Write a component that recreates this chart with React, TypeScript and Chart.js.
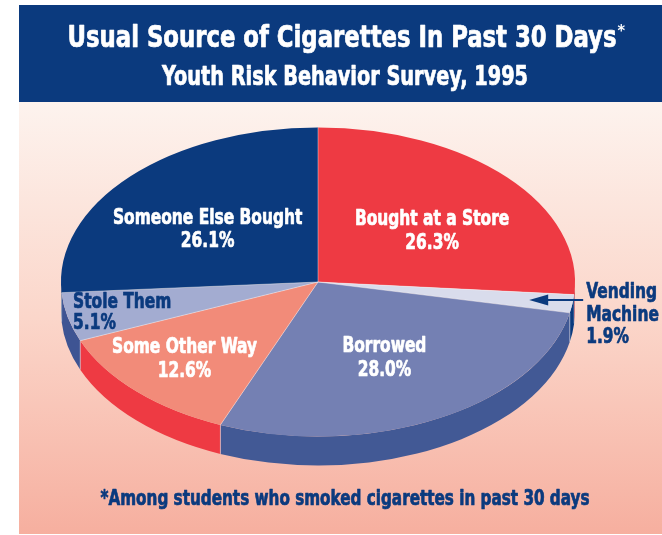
import React, { useEffect, useRef } from "react";
import { Chart, registerables } from "chart.js";

Chart.register(...registerables);

// ---- data ----
const categories = [
  "Bought at a Store",
  "Vending Machine",
  "Borrowed",
  "Some Other Way",
  "Stole Them",
  "Someone Else Bought",
];
const shares = [26.3, 1.9, 28.0, 12.6, 5.1, 26.1];
const labelLines = [
  ["Bought at a Store"],
  ["Vending", "Machine"],
  ["Borrowed"],
  ["Some Other Way"],
  ["Stole Them"],
  ["Someone Else Bought"],
];
const titleText = "Usual Source of Cigarettes In Past 30 Days";
const subtitleText = "Youth Risk Behavior Survey, 1995";
const footnoteText = "*Among students who smoked cigarettes in past 30 days";

// ---- styles ----
const NAVY = "#0b3a7e";
const topColors = ["#ee3a43", "#d9dcec", "#7480b3", "#f28b79", "#a3acd1", NAVY];
const sideColors = ["#c8303a", NAVY, "#425995", "#ee3a43", "#3e5493", "#082d66"];
const labelColors = ["#ffffff", NAVY, "#ffffff", "#ffffff", NAVY, "#ffffff"];
const placement = [
  { f: 0.563, shift: 4.7, align: "center" },
  { f: 0.83, shift: 0, align: "callout" },
  { f: 0.542, shift: -0.4, align: "center" },
  { f: 0.709, shift: 2.1, align: "center" },
  { f: 0.972, shift: 1.8, align: "left" },
  { f: 0.556, shift: -3.6, align: "center" },
];
const FLAT = 0.601;
const DEPTH = 29;
const SQUEEZE = 0.78;
const FAMILY = '"Liberation Sans Narrow", "DejaVu Sans Condensed", "Liberation Sans", sans-serif';

function font(size: number) {
  return `bold ${size}px ${FAMILY}`;
}

function heavyText(ctx: CanvasRenderingContext2D, t: string, x: number, y: number, maxW: number) {
  ctx.fillText(t, x, y, maxW);
  ctx.strokeStyle = ctx.fillStyle as string;
  ctx.lineWidth = 0.7;
  ctx.lineJoin = "round";
  ctx.strokeText(t, x, y, maxW);
}

function squeezed(ctx: CanvasRenderingContext2D, t: string, x: number, y: number) {
  const w = ctx.measureText(t).width * SQUEEZE;
  heavyText(ctx, t, x, y, w);
}

const pie3d = {
  id: "pie3d",
  beforeDraw(chart: any) {
    const ctx = chart.ctx as CanvasRenderingContext2D;
    ctx.save();
    const g = ctx.createLinearGradient(0, 102, 0, 534);
    g.addColorStop(0, "#fdf3ee");
    g.addColorStop(0.5, "#fbd6ca");
    g.addColorStop(1, "#f6af9f");
    ctx.fillStyle = g;
    ctx.fillRect(19, 102, 643, 432);
    ctx.fillStyle = NAVY;
    ctx.fillRect(19, 5, 643, 97);

    ctx.fillStyle = "#ffffff";
    ctx.textAlign = "center";
    ctx.textBaseline = "alphabetic";
    ctx.font = font(30);
    const tw = Math.min(ctx.measureText(titleText).width, 549);
    heavyText(ctx, titleText, 342, 47, 549);
    ctx.font = font(16);
    ctx.textAlign = "left";
    ctx.fillText("*", 342 + tw / 2 + 1, 36);
    ctx.textAlign = "center";
    ctx.font = font(26);
    heavyText(ctx, subtitleText, 345, 85, 366);

    ctx.fillStyle = NAVY;
    ctx.font = font(21);
    heavyText(ctx, footnoteText, 345, 505, 489);
    ctx.restore();
  },
  beforeDatasetsDraw(chart: any) {
    const ctx = chart.ctx as CanvasRenderingContext2D;
    const arcs = chart.getDatasetMeta(0).data;
    ctx.save();
    arcs.forEach((arc: any, i: number) => {
      const p = arc.getProps(["x", "y", "startAngle", "endAngle", "outerRadius"], true);
      const s = Math.max(p.startAngle, 0);
      const e = Math.min(p.endAngle, Math.PI);
      if (e <= s) return;
      const rx = p.outerRadius;
      const ry = p.outerRadius * FLAT;
      ctx.beginPath();
      ctx.ellipse(p.x, p.y, rx, ry, 0, s, e, false);
      ctx.ellipse(p.x, p.y + DEPTH, rx, ry, 0, e, s, true);
      ctx.closePath();
      ctx.fillStyle = sideColors[i];
      ctx.fill();
    });
    ctx.strokeStyle = "rgba(255,255,255,0.45)";
    ctx.lineWidth = 1;
    arcs.forEach((arc: any) => {
      const p = arc.getProps(["x", "y", "startAngle", "outerRadius"], true);
      const a = p.startAngle;
      if (a > 0 && a < Math.PI) {
        const px = p.x + p.outerRadius * Math.cos(a);
        const py = p.y + p.outerRadius * FLAT * Math.sin(a);
        ctx.beginPath();
        ctx.moveTo(px, py);
        ctx.lineTo(px, py + DEPTH);
        ctx.stroke();
      }
    });
    const c = arcs[0].getProps(["x", "y"], true);
    ctx.translate(c.x, c.y);
    ctx.scale(1, FLAT);
    ctx.translate(-c.x, -c.y);
  },
  afterDatasetsDraw(chart: any) {
    const ctx = chart.ctx as CanvasRenderingContext2D;
    ctx.restore();
    const arcs = chart.getDatasetMeta(0).data;
    ctx.save();
    ctx.strokeStyle = "rgba(255,255,255,0.4)";
    ctx.lineWidth = 1;
    arcs.forEach((arc: any) => {
      const p = arc.getProps(["x", "y", "startAngle", "outerRadius"], true);
      ctx.beginPath();
      ctx.moveTo(p.x, p.y);
      ctx.lineTo(p.x + p.outerRadius * Math.cos(p.startAngle), p.y + p.outerRadius * FLAT * Math.sin(p.startAngle));
      ctx.stroke();
    });
    ctx.textBaseline = "alphabetic";
    arcs.forEach((arc: any, i: number) => {
      const p = arc.getProps(["x", "y", "startAngle", "endAngle", "outerRadius"], true);
      const pl = placement[i];
      const mid = (p.startAngle + p.endAngle) / 2 + (pl.shift * Math.PI) / 180;
      const ax = p.x + p.outerRadius * pl.f * Math.cos(mid);
      const ay = p.y + p.outerRadius * FLAT * pl.f * Math.sin(mid);
      const lines = [...labelLines[i], shares[i].toFixed(1) + "%"];
      ctx.fillStyle = labelColors[i];
      ctx.font = font(22);
      if (pl.align === "callout") {
        ctx.strokeStyle = NAVY;
        ctx.lineWidth = 2;
        ctx.beginPath();
        ctx.moveTo(ax + 15, ay);
        ctx.lineTo(ax + 54, ay);
        ctx.stroke();
        ctx.beginPath();
        ctx.moveTo(ax, ay);
        ctx.lineTo(ax + 19, ay - 5.5);
        ctx.lineTo(ax + 19, ay + 5.5);
        ctx.closePath();
        ctx.fill();
        ctx.textAlign = "left";
        lines.forEach((t, k) => squeezed(ctx, t, ax + 57, ay - 2 + k * 22.5));
      } else if (pl.align === "left") {
        ctx.textAlign = "left";
        const b1 = ay - 3.5;
        lines.forEach((t, k) => squeezed(ctx, t, ax, b1 + k * 21));
      } else {
        ctx.textAlign = "center";
        const b1 = ay - 3.5;
        lines.forEach((t, k) => squeezed(ctx, t, ax, b1 + k * 23.5));
      }
    });
    ctx.restore();
  },
};

export default function App() {
  const ref = useRef<HTMLCanvasElement>(null);
  useEffect(() => {
    if (!ref.current) return;
    const chart = new Chart(ref.current, {
      type: "pie",
      data: {
        labels: categories,
        datasets: [
          {
            data: shares,
            backgroundColor: topColors,
            borderWidth: 0,
            radius: 257,
            clip: false,
          } as any,
        ],
      },
      options: {
        responsive: false,
        animation: false,
        devicePixelRatio: 1,
        events: [],
        layout: { padding: { left: 0, right: 26, top: 120, bottom: 91 } },
        plugins: {
          legend: { display: false },
          tooltip: { enabled: false },
          title: { display: false },
        },
      },
      plugins: [pie3d as any],
    });
    return () => chart.destroy();
  }, []);
  return (
    <div style={{ position: "absolute", left: 0, top: 0, width: 662, height: 535, background: "#ffffff" }}>
      <canvas ref={ref} width={662} height={535} style={{ display: "block" }} />
    </div>
  );
}
